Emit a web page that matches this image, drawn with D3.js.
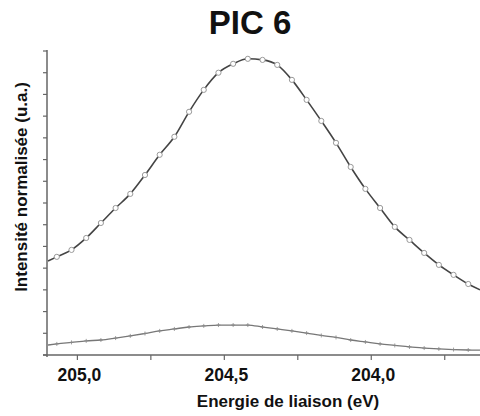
<!DOCTYPE html>
<html><head><meta charset="utf-8">
<script src="https://cdn.jsdelivr.net/npm/d3@7"></script>
<style>body{margin:0;background:#fff}svg{display:block}text{font-family:"Liberation Sans",Arial,sans-serif;font-weight:bold;fill:#111}</style>
</head><body><svg id="c" width="480" height="416"></svg>
<script>
// Binding energies (eV); first and last are the plot edges
const energies = [205.10,205.07,205.02,204.97,204.92,204.87,204.82,204.77,204.72,204.67,204.62,204.57,204.52,204.47,204.42,204.37,204.32,204.27,204.22,204.17,204.12,204.07,204.02,203.97,203.92,203.87,203.82,203.77,203.72,203.67,203.63];
const peakMain = [4.33,4.52,4.84,5.39,6.08,6.77,7.42,8.29,9.22,10.05,11.2,12.21,13.0,13.41,13.64,13.59,13.36,12.67,11.75,10.78,9.77,8.66,7.65,6.77,5.90,5.30,4.70,4.15,3.69,3.27,3.0];
const peakSmall = [0.46,0.51,0.58,0.65,0.69,0.78,0.88,0.99,1.11,1.20,1.29,1.34,1.38,1.38,1.38,1.29,1.20,1.11,1.01,0.90,0.81,0.69,0.60,0.51,0.44,0.37,0.32,0.28,0.25,0.23,0.22];
const xMajorTicks = [205.0,204.5,204.0];
const xMinorTicks = [204.75,204.25,203.75];
const xTickLabels = ["205,0","204,5","204,0"];
const yTicks = d3.range(0,15,1);
const title = "PIC 6";
const xTitle = "Energie de liaison (eV)";
const yTitle = "Intensité normalisée (u.a.)";

const svg = d3.select("#c");
const x = d3.scaleLinear().domain([205.10,203.63]).range([48,480]);
const y = d3.scaleLinear().domain([0,14]).range([355,51]);
const axisColor = "#666";

// title
svg.append("text").attr("x",250).attr("y",34).attr("text-anchor","middle").style("font-size","33px").text(title);

// x axis
const gx = svg.append("g").attr("transform","translate(0,355)");
gx.append("line").attr("x1",43).attr("x2",480).attr("stroke",axisColor).attr("stroke-width",1.5);
gx.selectAll(".tk").data(xMajorTicks.concat(xMinorTicks)).join("line")
  .attr("x1",d=>x(d)).attr("x2",d=>x(d)).attr("y1",0).attr("y2",5).attr("stroke",axisColor).attr("stroke-width",1.2);
gx.selectAll(".lb").data(xMajorTicks).join("text")
  .attr("x",d=>x(d)+2).attr("y",26).attr("text-anchor","middle").style("font-size","17.5px")
  .text((d,i)=>xTickLabels[i]);
svg.append("text").attr("x",288).attr("y",407).attr("text-anchor","middle").style("font-size","17px").text(xTitle);

// y axis
const gy = svg.append("g").attr("transform","translate(47,0)");
gy.append("line").attr("y1",50).attr("y2",357).attr("stroke",axisColor).attr("stroke-width",1.5);
gy.selectAll(".tk").data(yTicks).join("line")
  .attr("x1",-4).attr("x2",0).attr("y1",d=>y(d)).attr("y2",d=>y(d)).attr("stroke",axisColor).attr("stroke-width",1.2);
svg.append("text").attr("transform","translate(27,187) rotate(-90)").attr("text-anchor","middle").style("font-size","17px").text(yTitle);

// curves
const line = vals => d3.line().x((d,i)=>x(energies[i])).y(d=>y(d)).curve(d3.curveMonotoneX)(vals);
svg.append("path").attr("d",line(peakSmall)).attr("fill","none").attr("stroke","#777").attr("stroke-width",1.3);
svg.append("path").attr("d",line(peakMain)).attr("fill","none").attr("stroke","#444").attr("stroke-width",1.6);

const inner = d => d.slice(1,-1).map((v,i)=>({e:energies[i+1],v}));
svg.selectAll(".sm").data(inner(peakSmall)).join("path")
  .attr("d",d=>`M${x(d.e)-2},${y(d.v)}h4M${x(d.e)},${y(d.v)-2}v4`).attr("stroke","#888").attr("stroke-width",0.8);
svg.selectAll(".mk").data(inner(peakMain)).join("circle")
  .attr("cx",d=>x(d.e)).attr("cy",d=>y(d.v)).attr("r",2.6)
  .attr("fill","#fff").attr("stroke","#999").attr("stroke-width",1);
</script></body></html>
